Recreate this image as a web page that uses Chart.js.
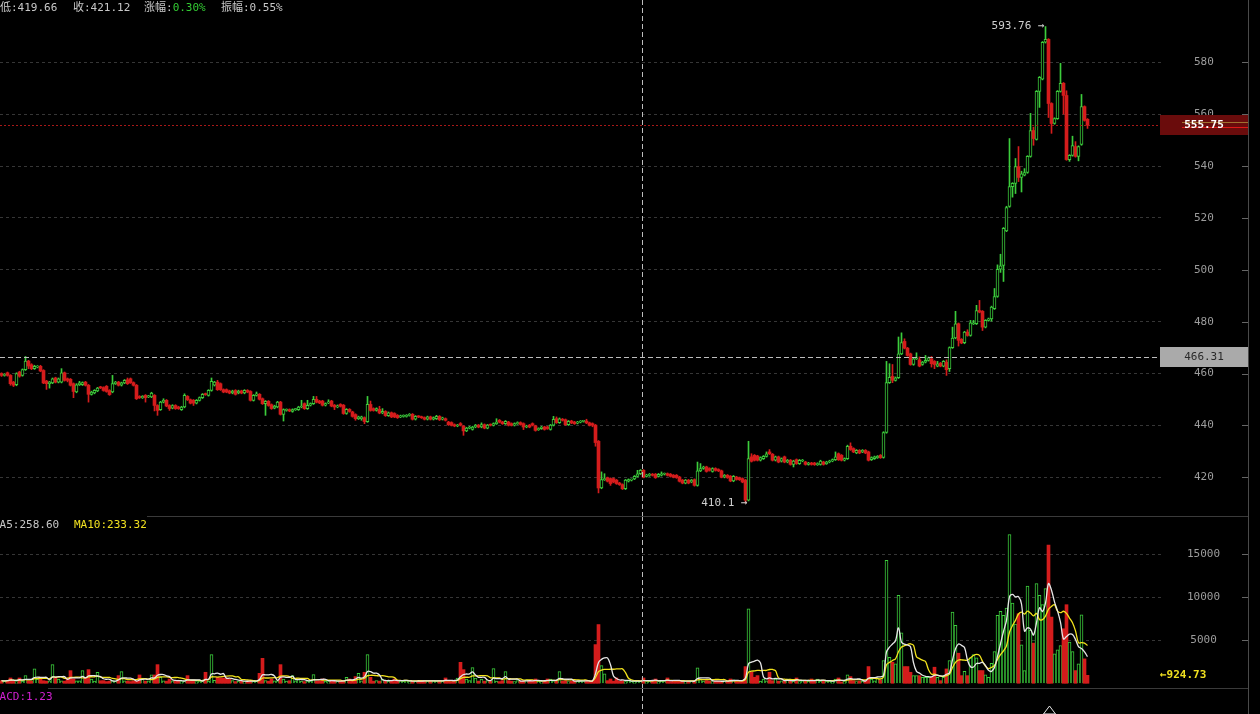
<!DOCTYPE html>
<html>
<head>
<meta charset="utf-8">
<script src="https://cdn.jsdelivr.net/npm/chart.js@4.4.1/dist/chart.umd.min.js"></script>
<style>
html, body { margin: 0; padding: 0; background: #000; overflow: hidden; }
#wrap { position: relative; width: 1260px; height: 714px; background: #000; overflow: hidden; }
canvas { position: absolute; left: 0; }
#pc { top: 0; }
#vc { top: 516px; }
#mc { top: 688px; }
.lbl { position: absolute; font: 11px "DejaVu Sans Mono", "Noto Sans CJK SC", monospace; white-space: pre; line-height: 14px; color: #c8c8c8; }
.hl { position: absolute; background: #3a3a3a; height: 1px; }
</style>
</head>
<body>
<div id="wrap">
  <canvas id="pc" width="1248" height="516"></canvas>
  <canvas id="vc" width="1248" height="172"></canvas>
  <canvas id="mc" width="1248" height="26"></canvas>
  <div class="hl" style="left:147px;top:516px;width:1101px"></div>
  <div class="hl" style="left:48px;top:688px;width:1200px"></div>
  <div style="position:absolute;left:1248px;top:0;width:1px;height:714px;background:#4a4a4a"></div>
  <div class="lbl" style="left:0;top:1px">低:419.66</div>
  <div class="lbl" style="left:73px;top:1px">收:421.12</div>
  <div class="lbl" style="left:144px;top:1px">涨幅:<span style="color:#33cc33">0.30%</span></div>
  <div class="lbl" style="left:221px;top:1px">振幅:0.55%</div>
  <div class="lbl" style="left:-7px;top:518px">MA5:258.60</div>
  <div class="lbl" style="left:74px;top:518px;color:#f0e020">MA10:233.32</div>
  <div class="lbl" style="left:-7px;top:690px;color:#d020d0">MACD:1.23</div>
</div>
<script>
// price ticks / volume ticks
var priceTicks = [420, 440, 460, 480, 500, 520, 540, 560, 580];
var volTicks = [5000, 10000, 15000];

var openP = [
460.0,459.3,460.3,459.3,456.7,455.7,460.6,459.3,461.5,464.8,
463.4,461.9,462.5,462.8,461.2,457.1,456.1,456.4,458.3,456.7,
456.7,460.3,458.0,457.8,456.1,452.9,455.7,455.7,456.7,455.5,
452.0,452.5,453.3,454.8,454.6,455.1,453.5,452.9,456.1,456.7,
455.5,456.4,457.6,458.0,456.5,455.5,451.2,450.7,451.6,451.0,
451.0,451.6,447.7,446.1,449.0,449.7,447.7,446.7,447.7,447.1,
446.1,447.1,451.2,449.9,449.7,448.6,449.7,450.7,452.2,451.6,
453.5,455.5,456.7,456.1,453.8,453.8,453.3,452.5,453.5,452.5,
453.3,452.5,453.5,453.1,449.7,451.6,452.0,450.3,448.4,449.3,
448.0,446.7,447.1,449.0,444.3,445.8,446.1,445.4,446.1,446.1,
447.1,448.4,446.5,447.8,448.4,450.1,449.4,449.4,447.8,448.7,
449.4,447.8,447.1,448.1,447.8,444.6,446.2,445.2,444.2,442.6,
442.6,443.0,441.5,448.1,446.5,445.8,446.2,444.8,445.4,443.8,
444.9,444.6,443.9,443.3,443.5,443.5,443.9,444.3,442.4,443.5,
443.3,443.0,442.4,443.3,442.4,442.6,443.5,442.4,442.6,441.3,
441.1,440.3,439.8,440.7,439.7,437.9,439.0,438.5,439.4,440.1,
439.4,440.3,439.0,440.3,440.1,440.7,442.0,441.3,440.7,441.3,
440.7,440.1,440.7,441.1,440.7,439.4,440.1,440.7,439.8,438.4,
438.8,439.4,439.4,438.5,440.1,442.6,441.1,442.4,442.2,440.3,
441.7,441.3,440.9,441.3,441.6,441.7,441.0,440.7,440.1,433.9,
415.9,419.1,419.8,419.5,419.5,418.9,417.8,417.2,415.6,418.5,
418.9,419.4,420.4,421.4,422.7,420.4,420.7,421.2,421.2,420.4,
420.8,421.2,421.4,421.2,420.8,420.8,420.1,418.9,417.8,418.9,
418.2,419.1,416.9,422.5,423.4,424.0,423.4,422.3,423.4,423.0,
422.5,420.1,420.8,420.4,418.6,420.1,419.8,419.5,418.9,411.2,
427.9,428.5,428.2,426.6,427.2,428.1,429.8,428.9,426.6,427.9,
426.2,427.9,425.9,426.6,425.0,426.8,425.3,426.3,425.9,425.0,
425.5,425.5,424.9,425.0,425.9,425.3,425.9,426.3,426.8,429.1,
428.5,426.6,427.2,432.0,431.1,429.4,430.4,429.8,430.4,429.8,
426.8,427.2,427.6,428.5,427.7,437.3,456.5,458.9,457.4,458.4,
467.6,472.4,469.8,467.6,463.5,465.7,465.3,463.5,464.4,465.1,
465.7,464.7,462.9,464.0,462.9,464.4,461.9,470.0,473.7,479.2,
473.2,471.9,476.0,474.7,479.2,479.2,484.3,484.0,477.9,480.5,
481.1,485.0,489.7,500.2,501.7,515.0,524.4,532.0,533.3,539.8,
535.6,536.5,537.5,543.7,553.7,550.3,568.8,573.5,587.7,588.8,
564.1,556.4,558.3,568.8,571.9,567.2,542.5,544.1,547.5,543.7,
548.3,562.9,558.0
];

var highP = [
460.3,460.0,460.6,459.6,457.0,460.3,460.9,461.8,466.6,465.1,
463.8,463.2,463.1,463.2,461.5,457.4,457.0,458.3,458.6,458.3,
461.9,460.6,458.3,458.1,456.4,456.1,457.0,456.8,457.0,455.8,
453.2,453.8,454.7,455.1,454.9,455.4,453.8,459.3,457.0,457.0,
456.7,457.7,458.3,458.3,456.8,455.8,451.5,451.5,451.9,451.6,
452.8,451.9,448.0,449.3,450.3,450.0,448.0,448.0,448.0,447.4,
447.4,452.2,451.5,450.2,450.0,450.0,451.0,452.3,452.5,453.8,
458.3,457.0,457.4,456.4,454.1,454.1,453.6,453.6,453.8,453.6,
453.6,453.8,453.8,453.4,451.9,452.9,452.3,450.6,449.6,449.6,
448.3,447.8,449.3,449.3,446.4,446.4,446.4,446.4,446.6,447.4,
449.7,448.7,449.7,448.7,451.2,451.2,449.7,449.7,448.7,449.9,
449.7,448.1,447.9,448.4,448.1,446.5,446.5,445.5,444.5,443.6,
443.6,443.3,451.2,449.4,446.8,446.8,447.4,446.5,445.7,445.2,
445.2,444.9,444.2,444.0,444.1,444.2,444.6,444.6,443.8,443.8,
443.6,443.3,443.6,443.6,443.3,443.9,443.8,443.2,442.9,441.6,
441.4,440.6,440.4,441.1,440.0,439.3,439.7,439.7,440.4,440.4,
441.0,440.6,440.4,440.6,441.0,442.6,442.3,441.6,441.9,441.6,
441.0,441.0,441.4,441.4,441.0,440.1,440.4,441.0,440.1,439.1,
439.7,439.7,439.7,440.4,443.5,443.3,442.9,442.7,442.5,441.9,
442.0,441.6,441.6,441.9,442.0,442.4,441.3,441.0,440.4,434.2,
422.1,421.4,420.1,419.8,419.8,419.2,418.1,417.5,419.2,419.4,
419.4,420.7,422.7,423.0,423.0,421.2,421.5,421.5,421.5,421.5,
422.1,421.7,421.7,421.5,421.1,421.1,420.4,419.2,419.2,419.2,
419.2,419.4,425.9,425.3,424.3,424.3,423.7,423.7,423.7,423.3,
422.8,421.1,421.1,420.7,420.7,420.4,420.1,419.8,419.2,433.9,
429.1,428.8,428.5,427.9,428.4,429.8,430.7,429.2,428.2,428.2,
427.5,428.2,426.9,426.9,426.6,427.1,426.9,426.9,426.2,425.8,
425.8,425.8,425.6,426.6,426.2,426.2,426.6,427.1,429.8,429.4,
428.8,427.5,432.4,433.3,431.4,430.7,430.7,430.7,430.7,430.1,
427.9,428.2,428.4,428.8,437.6,464.7,463.8,463.5,458.7,474.1,
475.7,473.4,470.1,467.9,466.0,468.0,466.4,464.7,467.0,466.4,
466.6,465.0,464.7,464.3,465.0,465.3,470.3,477.9,484.0,479.5,
473.5,476.3,476.9,480.5,480.5,486.3,488.2,484.3,480.8,481.4,
486.0,492.8,501.9,506.0,516.3,524.5,550.6,533.6,542.9,547.5,
538.0,539.0,544.0,560.3,555.0,569.1,574.5,588.0,593.76,589.1,
564.4,558.6,569.1,579.6,572.2,569.0,544.4,551.5,549.4,547.8,
567.6,563.2,558.3
];

var lowP = [
458.9,459.0,459.0,455.5,455.0,455.3,458.6,459.0,461.2,461.9,
461.5,461.6,462.2,460.7,456.1,453.9,454.4,456.1,456.4,456.4,
456.4,457.1,456.8,455.2,450.7,452.6,455.4,455.4,455.2,449.0,
451.7,452.2,453.0,454.2,453.2,452.8,451.6,452.6,455.8,455.2,
455.2,456.1,455.8,456.2,455.2,450.0,450.4,450.4,449.0,450.7,
450.7,445.6,443.9,445.8,448.7,447.2,445.8,446.4,446.2,446.2,
445.8,446.8,449.6,448.3,447.7,448.3,449.4,450.4,451.6,451.3,
453.2,455.2,453.5,453.5,452.6,452.6,452.2,452.2,451.7,452.2,
452.2,452.2,452.6,449.4,449.4,451.3,449.8,448.1,443.9,447.4,
446.2,446.4,446.8,444.0,441.7,445.5,445.3,445.1,445.8,445.8,
446.8,446.2,446.2,447.5,448.1,448.7,448.4,447.5,447.5,448.4,
447.2,446.1,446.8,447.1,444.3,444.3,445.1,443.2,442.0,442.3,
442.0,440.7,441.2,445.5,445.5,445.5,444.5,444.5,443.5,443.5,
443.0,443.0,442.7,443.0,443.2,443.2,443.6,442.1,442.1,443.0,
442.7,442.1,442.1,442.1,442.1,442.3,441.9,442.1,441.7,440.0,
439.8,439.5,439.5,439.8,436.2,437.6,438.7,438.2,439.1,439.1,
439.1,438.7,438.7,439.8,439.8,440.4,441.0,440.4,440.4,439.8,
439.8,439.8,440.4,440.1,438.4,439.1,439.1,439.8,437.8,438.1,
438.5,438.2,438.5,438.2,439.8,440.8,440.8,441.7,440.0,440.0,
440.7,440.4,440.6,441.0,441.3,440.7,439.8,439.5,432.0,414.0,
415.6,418.8,418.2,416.9,417.9,417.3,416.9,415.3,415.3,418.2,
418.6,419.1,420.1,421.1,419.8,420.1,420.4,420.5,419.6,420.1,
420.5,420.9,420.5,420.1,419.8,419.6,418.2,417.5,417.5,417.5,
417.9,416.6,416.6,422.2,423.1,422.0,422.4,422.0,422.4,422.2,
419.8,419.8,419.6,418.3,418.3,418.9,418.8,417.9,410.1,410.9,
425.9,426.3,426.3,426.3,426.9,427.8,428.8,426.3,426.3,425.6,
425.9,425.6,425.6,424.7,424.0,425.0,425.0,426.0,424.7,424.7,
424.7,424.6,424.6,424.7,424.7,425.0,425.6,426.0,426.5,426.5,
426.3,426.3,426.9,430.4,429.5,429.1,429.1,429.5,429.1,426.3,
426.5,426.9,427.3,427.3,427.4,437.0,456.2,456.5,457.1,458.1,
467.3,469.5,466.7,463.2,463.2,465.4,462.6,463.2,464.1,464.8,
462.5,461.9,462.6,462.6,462.6,459.3,460.8,469.7,473.4,470.6,
471.5,471.5,474.4,474.4,478.9,478.9,483.4,476.6,477.6,480.2,
480.2,484.7,489.4,499.0,495.5,514.7,524.1,528.0,529.4,534.0,
530.0,536.2,537.2,543.4,548.0,550.0,562.6,573.2,587.4,558.7,
552.6,556.1,558.0,568.5,560.0,542.2,541.8,543.8,543.4,542.0,
548.0,557.3,554.5
];

var closeP = [
459.3,459.6,459.3,456.1,455.5,460.0,459.0,461.5,464.8,462.9,
461.9,462.8,462.8,461.0,456.4,456.1,456.7,458.0,456.7,458.0,
460.3,457.4,457.4,455.5,453.1,455.7,456.4,456.5,455.5,452.0,
452.9,453.5,454.4,454.5,453.5,453.1,451.9,456.1,456.7,455.5,
456.4,457.4,456.1,456.5,455.5,450.3,450.7,451.2,450.7,451.3,
452.5,447.7,445.8,449.0,449.7,447.5,446.5,447.7,446.5,446.5,
447.1,451.6,449.9,448.6,448.6,449.7,450.7,452.0,451.9,453.5,
457.0,456.7,453.8,453.8,452.9,452.9,452.5,453.3,452.0,453.3,
452.5,453.5,452.9,449.7,451.6,452.2,450.1,448.4,449.3,447.7,
446.5,447.5,449.0,444.3,446.1,446.1,445.6,446.1,446.3,447.1,
447.3,446.5,447.8,448.4,450.1,449.0,448.7,447.8,448.4,449.0,
447.5,447.1,447.6,447.4,444.6,446.2,445.4,443.5,442.6,443.3,
443.3,441.5,448.1,445.8,445.8,446.5,444.8,445.4,443.8,444.9,
443.3,443.3,443.0,443.7,443.8,443.9,444.3,442.4,443.5,443.3,
443.0,442.4,443.3,442.4,443.0,443.5,442.2,442.9,442.0,440.3,
440.1,439.8,440.1,440.1,437.9,439.0,439.4,439.4,440.1,439.4,
440.3,439.0,440.1,440.1,440.7,441.3,441.3,440.7,441.6,440.1,
440.1,440.7,441.1,440.4,439.4,439.8,439.4,440.1,438.1,438.8,
439.4,438.5,438.8,440.1,442.4,441.1,442.6,442.0,440.3,441.6,
441.0,440.7,441.3,441.6,441.7,441.0,440.1,440.1,433.4,415.9,
419.1,419.5,418.5,417.6,418.2,417.6,417.2,415.6,418.9,419.1,
419.1,420.4,421.4,422.7,420.1,420.9,421.2,420.8,419.9,421.2,
421.4,421.4,420.8,420.4,420.1,419.9,418.5,417.8,418.9,417.8,
418.9,416.9,422.5,423.4,424.0,422.3,422.7,423.4,422.7,422.5,
420.1,420.8,419.9,418.6,420.4,419.2,419.1,418.2,411.2,427.2,
426.2,426.6,426.6,427.6,428.1,429.1,429.1,426.6,427.9,425.9,
427.2,425.9,426.6,425.0,426.3,425.3,426.6,426.6,425.0,425.5,
425.0,424.9,425.3,426.3,425.0,425.9,426.3,426.8,427.9,426.8,
426.6,427.2,432.0,430.7,429.8,430.4,429.4,430.4,429.4,426.6,
427.6,427.9,428.1,427.6,437.3,456.5,458.6,457.4,458.4,467.6,
471.9,469.8,467.0,463.5,465.7,466.1,462.9,464.4,465.1,466.1,
463.8,463.5,463.8,462.9,464.7,461.5,470.0,473.7,479.2,472.8,
471.8,476.0,474.7,479.6,479.6,484.3,483.7,477.9,480.5,481.1,
485.6,489.7,500.2,501.5,516.0,524.0,532.1,533.3,539.8,535.6,
537.0,537.5,543.7,553.7,550.6,568.8,574.2,587.7,588.8,564.1,
556.4,558.3,568.8,571.9,567.2,542.5,544.1,547.9,543.7,547.5,
562.9,557.6,555.75
];

var volume = [
300,250,350,620,280,200,620,260,890,300,
250,1670,500,700,300,250,280,2170,620,500,
300,250,620,1470,500,300,280,1470,620,1590,
500,250,1280,300,310,200,250,310,250,890,
1360,300,250,200,280,250,970,620,250,300,
970,970,2170,700,280,250,500,300,310,250,
200,280,890,310,250,200,280,300,1280,250,
3340,350,700,620,620,620,500,310,200,250,
280,200,250,300,250,280,1160,2900,310,250,
500,300,280,2170,500,250,300,890,280,500,
250,200,300,280,1000,250,300,500,250,200,
280,250,300,250,280,700,500,250,780,1160,
300,1280,3340,700,250,310,250,500,310,250,
250,500,300,310,250,310,200,250,280,300,
250,310,280,300,310,250,280,300,620,250,
200,250,620,2440,1590,500,310,1820,620,250,
500,250,310,250,1700,250,200,310,1360,310,
250,200,310,250,280,400,250,280,500,250,
200,250,500,500,280,250,1360,250,300,200,
250,280,300,310,250,310,200,310,4500,6830,
2060,1090,310,500,250,620,250,310,200,310,
250,200,280,250,620,200,250,310,500,200,
250,280,620,200,310,250,280,250,200,250,
280,300,1785,500,250,310,250,200,280,250,
200,280,250,500,400,250,200,280,1940,8650,
1280,700,890,250,500,280,1280,300,500,250,
280,250,500,300,250,620,200,280,300,250,
500,250,500,250,300,280,250,200,500,620,
150,200,970,780,300,200,250,250,300,1945,
500,300,620,400,2650,14300,3030,2450,2260,10230,
5870,1945,1945,1280,890,890,890,700,700,700,
700,1870,700,310,700,1670,2650,8290,6730,3500,
890,1400,890,2950,3350,2950,1480,1480,970,700,
2330,3700,7900,8360,7900,8750,17300,9340,6900,8090,
4470,1480,11300,6150,4670,11600,10230,9140,11000,16070,
7700,3420,3890,4400,6340,9140,4780,3700,1480,2260,
7970,2840,924.73
];

var crossIndex = 213.5;
var crossPrice = 466.31;
var markerIndex = 349;

var GREEN = '#3ccd3c';
var RED = '#d41c1c';
var MONO = '"DejaVu Sans Mono", monospace';

var idx = openP.map(function (v, i) { return i; });
var up = idx.map(function (i) { return closeP[i] >= openP[i]; });
var lastPrice = closeP[closeP.length - 1];
var hiIdx = 0, loIdx = 0;
idx.forEach(function (i) {
  if (highP[i] > highP[hiIdx]) hiIdx = i;
  if (lowP[i] < lowP[loIdx]) loIdx = i;
});

function movingAvg(n) {
  return idx.map(function (i) {
    var s = 0, c = 0;
    for (var k = Math.max(0, i - n + 1); k <= i; k++) { s += volume[k]; c++; }
    return { x: i, y: s / c };
  });
}

function line(ctx, x1, y1, x2, y2) {
  ctx.beginPath(); ctx.moveTo(x1, y1); ctx.lineTo(x2, y2); ctx.stroke();
}

function tickMarks(chart) {
  var ctx = chart.ctx, ys = chart.scales.y;
  ctx.save();
  ctx.strokeStyle = '#666'; ctx.lineWidth = 1;
  ys.ticks.forEach(function (t) {
    var y = Math.round(ys.getPixelForValue(t.value)) + 0.5;
    line(ctx, chart.width - 6, y, chart.width, y);
  });
  ctx.restore();
}

function crossX(chart) {
  return Math.round(chart.scales.x.getPixelForValue(crossIndex)) + 0.5;
}

var mainDeco = {
  id: 'mainDeco',
  afterDraw: function (chart) {
    var ctx = chart.ctx, xs = chart.scales.x, ys = chart.scales.y;
    tickMarks(chart);
    ctx.save();
    ctx.lineWidth = 1;
    var ly = Math.round(ys.getPixelForValue(lastPrice)) + 0.5;
    ctx.strokeStyle = '#a81818'; ctx.setLineDash([2, 2]);
    line(ctx, 0, ly, 1160, ly);
    var cx = crossX(chart);
    var cy = Math.round(ys.getPixelForValue(crossPrice)) + 0.5;
    ctx.strokeStyle = '#bdbdbd'; ctx.setLineDash([5, 3]);
    line(ctx, cx, 0, cx, chart.height);
    line(ctx, 0, cy, 1160, cy);
    ctx.setLineDash([]);
    // last price box
    ctx.fillStyle = '#6a0c0c';
    ctx.fillRect(1160, ly - 10.5, 88, 20);
    ctx.strokeStyle = '#a07030'; line(ctx, 1182, ly - 3, 1248, ly - 3);
    ctx.strokeStyle = '#e01818'; line(ctx, 1182, ly + 2, 1248, ly + 2);
    ctx.fillStyle = '#ffffff';
    ctx.font = 'bold 11px ' + MONO;
    ctx.textAlign = 'center'; ctx.textBaseline = 'middle';
    ctx.fillText(lastPrice.toFixed(2), 1204, ly);
    // crosshair price box
    ctx.fillStyle = '#aaaaaa';
    ctx.fillRect(1160, cy - 10.5, 88, 20);
    ctx.fillStyle = '#2a2a2a';
    ctx.font = '11px ' + MONO;
    ctx.fillText(crossPrice.toFixed(2), 1204, cy);
    // high / low labels
    ctx.fillStyle = '#cfcfcf';
    ctx.textAlign = 'right';
    ctx.fillText(highP[hiIdx] + ' \u2192', xs.getPixelForValue(hiIdx) - 1, ys.getPixelForValue(highP[hiIdx]));
    ctx.fillText(lowP[loIdx] + ' \u2192', xs.getPixelForValue(loIdx) + 2, ys.getPixelForValue(lowP[loIdx]));
    ctx.restore();
  }
};

var volDeco = {
  id: 'volDeco',
  afterDraw: function (chart) {
    var ctx = chart.ctx, ys = chart.scales.y;
    tickMarks(chart);
    ctx.save();
    var cx = crossX(chart);
    ctx.strokeStyle = '#bdbdbd'; ctx.lineWidth = 1; ctx.setLineDash([5, 3]);
    line(ctx, cx, 0, cx, chart.height);
    ctx.setLineDash([]);
    var lv = volume[volume.length - 1];
    ctx.fillStyle = '#f0e020';
    ctx.font = 'bold 11px ' + MONO;
    ctx.textAlign = 'left'; ctx.textBaseline = 'middle';
    ctx.fillText('\u2190' + lv.toFixed(2), 1160, ys.getPixelForValue(lv));
    ctx.restore();
  }
};

function yAxis(min, max, ticks, pad) {
  return {
    position: 'right', min: min, max: max,
    afterBuildTicks: function (ax) { ax.ticks = ticks.map(function (v) { return { value: v }; }); },
    afterFit: function (ax) { ax.width = 84; ax.paddingTop = 0; ax.paddingBottom = 0; },
    grid: { color: '#363636', drawTicks: false, lineWidth: 1 },
    border: { display: false, dash: [3, 3] },
    ticks: {
      color: '#9c9c9c', font: { family: 'DejaVu Sans Mono', size: 11 }, padding: pad, crossAlign: 'center',
      callback: function (v) { return String(v); }
    }
  };
}

var xAxis = { type: 'linear', min: -0.5, max: 387.5, display: false, offset: false };

var baseOpts = {
  responsive: false, animation: false, events: [],
  layout: { padding: 0 },
  plugins: { legend: { display: false }, tooltip: { enabled: false } }
};

new Chart(document.getElementById('pc'), {
  type: 'bar',
  data: {
    datasets: [
      {
        data: idx.map(function (i) { return { x: i, y: [openP[i], closeP[i]] }; }),
        backgroundColor: idx.map(function (i) { return up[i] ? '#000000' : RED; }),
        borderColor: idx.map(function (i) { return up[i] ? GREEN : RED; }),
        borderWidth: idx.map(function (i) { return up[i] ? 1 : 0; }),
        borderSkipped: false, barThickness: 3, minBarLength: 1, grouped: false
      },
      {
        data: idx.map(function (i) { return { x: i, y: [lowP[i], highP[i]] }; }),
        backgroundColor: idx.map(function (i) { return up[i] ? GREEN : RED; }),
        borderWidth: 0, barThickness: 1, grouped: false
      }
    ]
  },
  options: Object.assign({}, baseOpts, {
    scales: { x: xAxis, y: yAxis(405.1, 604.0, priceTicks, 30) }
  }),
  plugins: [mainDeco]
});

var volChart = new Chart(document.getElementById('vc'), {
  type: 'bar',
  data: {
    datasets: [
      { type: 'line', data: movingAvg(5), borderColor: '#e6e6e6', borderWidth: 1.3, pointRadius: 0, tension: 0.35, fill: false },
      { type: 'line', data: movingAvg(10), borderColor: '#f2e21c', borderWidth: 1.3, pointRadius: 0, tension: 0.35, fill: false },
      {
        data: idx.map(function (i) { return { x: i, y: volume[i] }; }),
        backgroundColor: idx.map(function (i) { return up[i] ? '#000000' : RED; }),
        borderColor: idx.map(function (i) { return up[i] ? GREEN : RED; }),
        borderWidth: idx.map(function (i) { return up[i] ? 1 : 0; }),
        borderSkipped: 'bottom', barThickness: 3, grouped: false
      }
    ]
  },
  options: Object.assign({}, baseOpts, {
    scales: { x: xAxis, y: yAxis(-547, 19453, volTicks, 23) }
  }),
  plugins: [volDeco]
});

// bottom indicator strip: crosshair and marker
(function () {
  var c = document.getElementById('mc').getContext('2d');
  var xs = volChart.scales.x;
  var cx = Math.round(xs.getPixelForValue(crossIndex)) + 0.5;
  c.strokeStyle = '#bdbdbd'; c.lineWidth = 1; c.setLineDash([5, 3]);
  line(c, cx, 0, cx, 26);
  c.setLineDash([]);
  var mx = Math.round(xs.getPixelForValue(markerIndex)) + 0.5;
  c.strokeStyle = '#e8e8e8';
  c.beginPath(); c.moveTo(mx, 18); c.lineTo(mx - 6, 26); c.lineTo(mx + 6, 26); c.closePath(); c.stroke();
})();
</script>
</body>
</html>
